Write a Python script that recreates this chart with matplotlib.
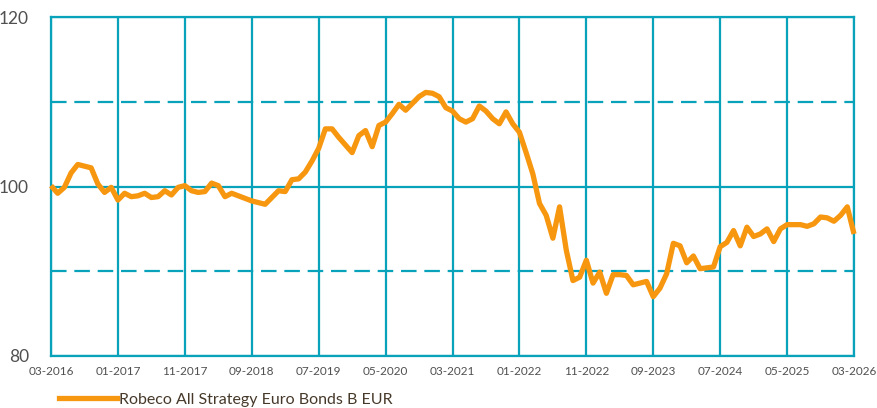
import matplotlib
matplotlib.use("Agg")
import matplotlib.pyplot as plt
from matplotlib.lines import Line2D

# Monthly index values, 03-2016 .. 03-2026
values = [
    100.1, 99.2, 99.9, 101.6, 102.6, 102.4, 102.2, 100.3, 99.3, 99.9,
    98.4, 99.2, 98.8, 98.9, 99.2, 98.7, 98.8, 99.5, 99.0, 99.9,
    100.1, 99.5, 99.3, 99.4, 100.4, 100.1, 98.8, 99.2, 98.9, 98.6,
    98.3, 98.1, 97.9, 98.7, 99.5, 99.4, 100.8, 100.9, 101.7, 103.0,
    104.5, 106.8, 106.8, 105.8, 104.9, 104.0, 106.0, 106.6, 104.7, 107.2,
    107.6, 108.6, 109.7, 109.0, 109.8, 110.6, 111.1, 111.0, 110.6, 109.3,
    108.9, 108.0, 107.6, 108.0, 109.5, 108.9, 108.0, 107.4, 108.8, 107.4,
    106.4, 104.0, 101.5, 98.0, 96.6, 93.9, 97.6, 92.5, 88.9, 89.3,
    91.3, 88.6, 89.9, 87.4, 89.6, 89.6, 89.5, 88.4, 88.6, 88.8,
    87.0, 88.0, 89.7, 93.3, 93.0, 91.0, 91.8, 90.3, 90.4, 90.5,
    92.9, 93.4, 94.8, 93.0, 95.2, 94.1, 94.4, 95.0, 93.5, 95.0,
    95.5, 95.5, 95.5, 95.3, 95.6, 96.4, 96.3, 95.9, 96.6, 97.6,
    94.4,
]
months = list(range(len(values)))
tick_positions = [0, 10, 20, 30, 40, 50, 60, 70, 80, 90, 100, 110, 120]
tick_labels = ["03-2016", "01-2017", "11-2017", "09-2018", "07-2019", "05-2020",
               "03-2021", "01-2022", "11-2022", "09-2023", "07-2024", "05-2025",
               "03-2026"]
y_major = [80, 100, 120]
y_minor = [90, 110]
series_name = "Robeco All Strategy Euro Bonds B EUR"

TEAL = "#08a2bb"
ORANGE = "#f7960f"
plt.rcParams['font.family'] = ['Lato', 'DejaVu Sans']

fig = plt.figure(figsize=(8.77, 4.08), dpi=100)
ax = fig.add_axes([51/877, 52/408, 803/877, 339/408])

ax.plot(months, values, color=ORANGE, lw=3.8, solid_joinstyle='round',
        solid_capstyle='butt', zorder=3, clip_on=False)

ax.set_xlim(0, 120)
ax.set_ylim(80, 120)
ax.set_xticks(tick_positions)
ax.set_xticklabels(tick_labels)
ax.set_yticks(y_major)
ax.set_yticks(y_minor, minor=True)
ax.grid(True, which='major', axis='both', color=TEAL, lw=1.6, zorder=1)
ax.grid(True, which='minor', axis='y', color=TEAL, lw=1.6, linestyle=(0, (7, 3.5)), zorder=1)
ax.tick_params(which='both', length=0)
ax.tick_params(axis='x', labelsize=8.5, labelcolor='#505050', pad=7)
ax.tick_params(axis='y', labelsize=12.5, labelcolor='#505050', pad=16)
for s in ax.spines.values():
    s.set_color(TEAL)
    s.set_linewidth(1.6)
ax.set_axisbelow(True)

handle = Line2D([0], [0], color=ORANGE, lw=3.8)
fig.legend([handle], [series_name], loc='lower left', bbox_to_anchor=(53/877, -0.012),
           frameon=False, fontsize=11.5, handlelength=3.6, handletextpad=0.15,
           labelcolor='#46392a', borderaxespad=0)

fig.savefig("out.png", dpi=100)
